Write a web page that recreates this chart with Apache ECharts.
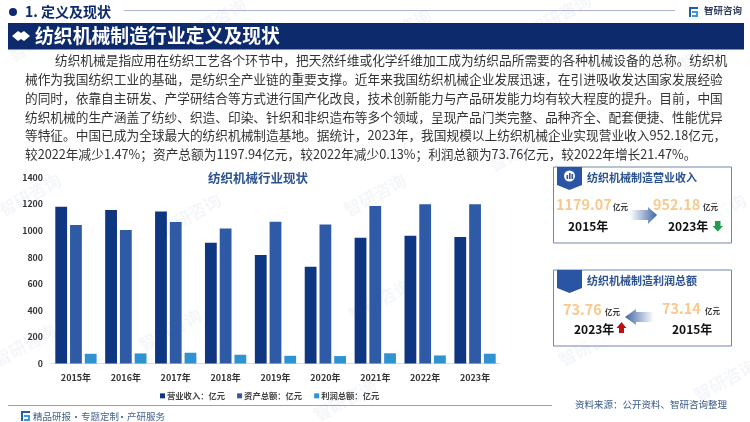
<!DOCTYPE html>
<html>
<head>
    <meta charset="utf-8">
    <title>纺织机械制造行业定义及现状</title>
    <script src="https://cdn.jsdelivr.net/npm/echarts@6/dist/echarts.min.js"></script>
    <style>
        html, body { margin: 0; padding: 0; background: #fff; }
        #main { width: 750px; height: 422px; }
    </style>
</head>
<body>
<div id="main"></div>
<script type="text/javascript">
    // 图表数据
    var years = ['2015年', '2016年', '2017年', '2018年', '2019年', '2020年', '2021年', '2022年', '2023年'];
    var revenue = [1179.07, 1155, 1145, 909, 817, 729, 947, 962, 952.18];
    var assets = [1042, 1005, 1065, 1017, 1067, 1047, 1185, 1198, 1197.94];
    var profit = [73.14, 76, 81, 66, 58, 56, 77, 60.72, 73.76];
    var seriesNames = ['营业收入：亿元', '资产总额：亿元', '利润总额：亿元'];
    var seriesColors = ['#0f3681', '#2f5aa6', '#2f93d1'];

    var paragraph = [
        '纺织机械是指应用在纺织工艺各个环节中，把天然纤维或化学纤维加工成为纺织品所需要的各种机械设备的总称。纺织机',
        '械作为我国纺织工业的基础，是纺织全产业链的重要支撑。近年来我国纺织机械企业发展迅速，在引进吸收发达国家发展经验',
        '的同时，依靠自主研发、产学研结合等方式进行国产化改良，技术创新能力与产品研发能力均有较大程度的提升。目前，中国',
        '纺织机械的生产涵盖了纺纱、织造、印染、针织和非织造布等多个领域，呈现产品门类完整、品种齐全、配套便捷、性能优异',
        '等特征。中国已成为全球最大的纺织机械制造基地。据统计，2023年，我国规模以上纺织机械企业实现营业收入952.18亿元，',
        '较2022年减少1.47%；资产总额为1197.94亿元，较2022年减少0.13%；利润总额为73.76亿元，较2022年增长21.47%。'
    ];

    var NAVY = '#0c2a6c';
    var FONT = '"Noto Sans CJK SC", "Noto Sans", sans-serif';
    var els = [];

    function txt(s, x, y, size, color, bold, align, z) {
        els.push({
            type: 'text', z: z || 10, silent: true,
            style: {
                text: s, x: x, y: y, fill: color,
                fontFamily: FONT, fontSize: size, fontWeight: bold ? 'bold' : 'normal',
                textAlign: align || 'left', textVerticalAlign: 'middle'
            }
        });
    }
    function rect(x, y, w, h, fill, stroke) {
        els.push({
            type: 'rect', z: 5, silent: true,
            shape: { x: x, y: y, width: w, height: h },
            style: { fill: fill, stroke: stroke || null, lineWidth: stroke ? 1 : 0 }
        });
    }
    function poly(points, fill) {
        els.push({ type: 'polygon', z: 6, silent: true, shape: { points: points }, style: { fill: fill } });
    }
    function logo(x, y, c1, c2) {
        rect(x, y, 9, 2, c1);
        rect(x, y + 2, 2, 8, c1);
        rect(x + 3, y + 4, 6, 2, c2);
        rect(x + 7, y + 6, 2, 2, c2);
        rect(x + 3, y + 8, 6, 2, c2);
    }

    // 水印
    var marks = [[40, 40], [215, 20], [400, 30], [560, 15], [710, 50], [30, 195], [190, 215], [375, 195], [520, 150], [715, 215], [25, 345], [170, 330], [380, 300], [590, 345], [725, 380], [345, 400]];
    for (var i = 0; i < marks.length; i++) {
        els.push({
            type: 'text', z: 1, silent: true, x: marks[i][0], y: marks[i][1], rotation: 0.5,
            style: {
                text: '智研咨询', fill: 'rgba(60,100,165,0.06)', fontFamily: FONT, fontSize: 17,
                fontWeight: 'bold', textAlign: 'center', textVerticalAlign: 'middle'
            }
        });
    }

    // 顶部
    els.push({ type: 'circle', z: 6, silent: true, shape: { cx: 13, cy: 12, r: 4 }, style: { fill: NAVY } });
    txt('1. 定义及现状', 25, 12, 14, NAVY, true);
    rect(124, 10, 551, 1, '#a9b5d2');
    logo(689, 7, '#1f5fa8', '#3f9bd8');
    txt('智研咨询', 704, 10.5, 9.5, '#33415f', true);

    // 标题栏
    rect(8, 23, 736, 26.5, NAVY);
    poly([[12, 36], [18, 31], [21, 33], [24, 31], [30, 36], [24, 41], [21, 39], [18, 41]], '#ffffff');
    txt('纺织机械制造行业定义及现状', 35, 36, 18.85, '#ffffff', true);

    // 正文
    for (var k = 0; k < paragraph.length; k++) {
        txt(paragraph[k], k === 0 ? 55 : 25, 60 + k * 18.9, 12.7, '#333333');
    }

    // 图表标题
    txt('纺织机械行业现状', 208, 178, 12.5, '#2c5391', true);

    // 底部
    rect(8, 405, 544, 1, '#8f9fc8');
    logo(21, 411, '#1f5fa8', '#3f9bd8');
    txt('精品研报', 33, 416, 9.5, '#46628f');
    txt('·', 76, 416, 9.5, '#46628f', false, 'center');
    txt('专题定制', 81, 416, 9.5, '#46628f');
    txt('·', 122, 416, 9.5, '#46628f', false, 'center');
    txt('产研服务', 127, 416, 9.5, '#46628f');
    txt('资料来源：公开资料、智研咨询整理', 575, 404, 9.5, '#3a5a88');

    // 右侧卡片
    function card(y, title) {
        rect(553.5, y, 178, 76, 'rgba(255,255,255,0.6)', '#6f88ad');
        poly([[557, y], [582, y], [582, y + 18], [569.5, y + 23], [557, y + 18]], '#2a55a5');
        txt(title, 587, y + 11, 11, '#2c5391', true);
    }
    var ORANGE = '#f8c98a';
    var gradRight = new echarts.graphic.LinearGradient(0, 0, 1, 0, [
        { offset: 0, color: 'rgba(70,105,165,0)' }, { offset: 1, color: '#3f66a8' }
    ]);
    var gradLeft = new echarts.graphic.LinearGradient(0, 0, 1, 0, [
        { offset: 0, color: '#3f66a8' }, { offset: 1, color: 'rgba(70,105,165,0)' }
    ]);

    card(167, '纺织机械制造营业收入');
    els.push({ type: 'circle', z: 7, silent: true, shape: { cx: 569.5, cy: 176, r: 5.5 }, style: { fill: '#ffffff' } });
    els.push({ type: 'rect', z: 8, silent: true, shape: { x: 566.5, y: 175, width: 1.6, height: 4 }, style: { fill: '#2a55a5' } });
    els.push({ type: 'rect', z: 8, silent: true, shape: { x: 569, y: 173, width: 1.6, height: 6 }, style: { fill: '#2a55a5' } });
    els.push({ type: 'rect', z: 8, silent: true, shape: { x: 571.5, y: 174, width: 1.6, height: 5 }, style: { fill: '#2a55a5' } });
    txt('1179.07', 556, 205, 14.4, ORANGE, true);
    txt('亿元', 613, 207, 7.5, '#333333', true);
    txt('2015年', 568, 226, 12, '#111111', true);
    poly([[630, 210], [648, 210], [648, 207], [657, 215], [648, 224], [648, 220], [630, 220]], gradRight);
    txt('952.18', 653, 205, 14.4, ORANGE, true);
    txt('亿元', 703, 207, 7.5, '#333333', true);
    txt('2023年', 668, 226, 12, '#111111', true);
    poly([[715, 221], [720.5, 221], [720.5, 226], [723, 226], [717.7, 231.5], [712.5, 226], [715, 226]], '#1f9d4d');

    card(270, '纺织机械制造利润总额');
    rect(562, 279, 2, 4, '#ffffff');
    rect(566, 277, 2, 6, '#ffffff');
    rect(570, 275, 2, 8, '#ffffff');
    rect(574, 273, 2, 10, '#ffffff');
    txt('73.76', 563, 310, 14.4, ORANGE, true);
    txt('亿元', 605, 312, 7.5, '#333333', true);
    txt('2023年', 574, 329, 12, '#111111', true);
    poly([[616.5, 328], [621.5, 322], [626.5, 328], [624, 328], [624, 333], [619, 333], [619, 328]], '#c00d0d');
    poly([[654, 312], [636, 312], [636, 309], [625, 317], [636, 325], [636, 322], [654, 322]], gradLeft);
    txt('73.14', 662, 309, 14.4, ORANGE, true);
    txt('亿元', 705, 311, 7.5, '#333333', true);
    txt('2015年', 672, 329, 12, '#111111', true);

    var seriesData = [revenue, assets, profit];
    var series = [];
    for (var s = 0; s < seriesData.length; s++) {
        series.push({
            name: seriesNames[s],
            type: 'bar',
            barWidth: 11.8,
            barGap: '25%',
            data: seriesData[s],
            itemStyle: { color: seriesColors[s] }
        });
    }

    var myChart = echarts.init(document.getElementById('main'));
    myChart.setOption({
        animation: false,
        textStyle: { fontFamily: FONT },
        grid: { left: 51, right: 250, top: 177.5, bottom: 58.5, containLabel: false },
        legend: {
            bottom: 17,
            left: 155,
            itemWidth: 5,
            itemHeight: 5,
            itemGap: 12,
            icon: 'rect',
            textStyle: { fontSize: 8.3, fontWeight: 'bold', color: '#444444', padding: [0, 0, 0, -3] },
            data: seriesNames
        },
        xAxis: {
            type: 'category',
            data: years,
            axisLine: { lineStyle: { color: '#d5dbe6' } },
            axisTick: { show: false },
            axisLabel: { fontSize: 9, fontWeight: 'bold', color: '#333333', margin: 9.5, interval: 0 }
        },
        yAxis: {
            type: 'value',
            min: 0,
            max: 1400,
            interval: 200,
            axisLine: { show: false },
            axisTick: { show: false },
            splitLine: { show: false },
            axisLabel: {
                fontSize: 8.8, fontWeight: 'bold', color: '#333333', margin: 8,
                formatter: function (v) { return String(v); }
            }
        },
        series: series,
        graphic: { elements: els }
    });
</script>
</body>
</html>
